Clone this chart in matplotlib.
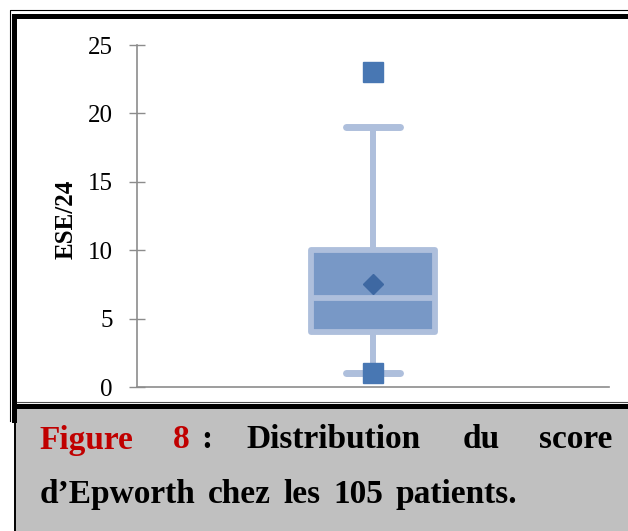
import matplotlib
matplotlib.use("Agg")
import matplotlib.pyplot as plt
from matplotlib.lines import Line2D
from matplotlib.patches import Rectangle

# data (ESE score /24)
categories = [""]
q1 = [4]
median = [6.5]
q3 = [10]
whisker_low = [1]
whisker_high = [19]
means = [7.5]
outliers = [[23, 1]]
y_ticks = [0, 5, 10, 15, 20, 25]

caption_words = ["Figure", "8", ":", "Distribution", "du", "score"]
caption_words2 = ["d\u2019Epworth", "chez", "les", "105", "patients."]

W, H = 628, 531
plt.rcParams['font.family'] = ['Liberation Serif', 'DejaVu Serif']

fig = plt.figure(figsize=(W / 100, H / 100), dpi=100)


def fx(x):
    return x / W


def fy(y):
    return 1 - y / H


# axes placed in pixel terms
ax = fig.add_axes([fx(137), fy(387), fx(609) - fx(137), fy(45) - fy(387)])

stats = []
for i in range(len(categories)):
    stats.append({'label': categories[i], 'q1': q1[i], 'med': median[i], 'q3': q3[i],
                  'whislo': whisker_low[i], 'whishi': whisker_high[i],
                  'mean': means[i], 'fliers': outliers[i]})

edge = '#AEBFDC'
ax.bxp(stats, positions=[1], widths=0.525, capwidths=0.225, patch_artist=True,
       showmeans=True, showfliers=True,
       boxprops=dict(facecolor='#7898C6', edgecolor=edge, linewidth=4.2, joinstyle='round'),
       medianprops=dict(color=edge, linewidth=4.2),
       whiskerprops=dict(color=edge, linewidth=4.3, solid_capstyle='butt'),
       capprops=dict(color=edge, linewidth=5, solid_capstyle='round'),
       meanprops=dict(marker='D', markerfacecolor='#3E68A2', markeredgecolor='#3E68A2',
                      markersize=10),
       flierprops=dict(marker='s', markerfacecolor='#4877B3', markeredgecolor='#4877B3',
                       markersize=14))

ax.set_xlim(0, 2)
ax.set_ylim(0, 25)
ax.set_yticks(y_ticks)
ax.set_xticks([])
ax.tick_params(axis='y', direction='inout', length=11, width=1, color='#8C8C8C',
               labelsize=18, pad=12)
for s in ['top', 'right']:
    ax.spines[s].set_visible(False)
for s in ['left', 'bottom']:
    ax.spines[s].set_color('#8C8C8C')
    ax.spines[s].set_linewidth(1.2)

fig.text(fx(66), fy(219), 'ESE/24', rotation=90, fontsize=18, fontweight='bold',
         ha='center', va='center')

# frame around the chart
fig.add_artist(Line2D([fx(10), fx(10), fx(628)], [fy(421), fy(10), fy(10)], color='black', lw=0.8))
fig.add_artist(Line2D([fx(14), fx(14), fx(628)], [fy(420), fy(15.5), fy(15.5)], color='black', lw=3.6,
                      solid_joinstyle='miter'))
fig.add_artist(Line2D([fx(17), fx(628)], [fy(402), fy(402)], color='#505050', lw=0.8))
fig.add_artist(Line2D([fx(14), fx(628)], [fy(406), fy(406)], color='black', lw=3.6))

# caption box
fig.add_artist(Rectangle((fx(16), 0), 1 - fx(16), fy(408.5), transform=fig.transFigure,
                         facecolor='#C0C0C0', edgecolor='none'))
fig.add_artist(Line2D([fx(15), fx(15)], [0, fy(408)], color='black', lw=1.4))

cap_x = [39.5, 172.5, 201, 246.5, 463, 612]
cap_col = ['#C00000', '#C00000', 'black', 'black', 'black', 'black']
for i, w in enumerate(caption_words):
    fig.text(fx(cap_x[i]), fy(448.5), w, fontsize=24, fontweight='bold', color=cap_col[i],
             ha='right' if i == len(caption_words) - 1 else 'left', va='baseline')

# second line: words one after another with an even gap
renderer = fig.canvas.get_renderer()
x = 40
for w in caption_words2:
    t = fig.text(fx(x), fy(503), w, fontsize=24, fontweight='bold', color='black',
                 ha='left', va='baseline')
    x += t.get_window_extent(renderer).width + 12.5

fig.savefig('out.png', dpi=100)
